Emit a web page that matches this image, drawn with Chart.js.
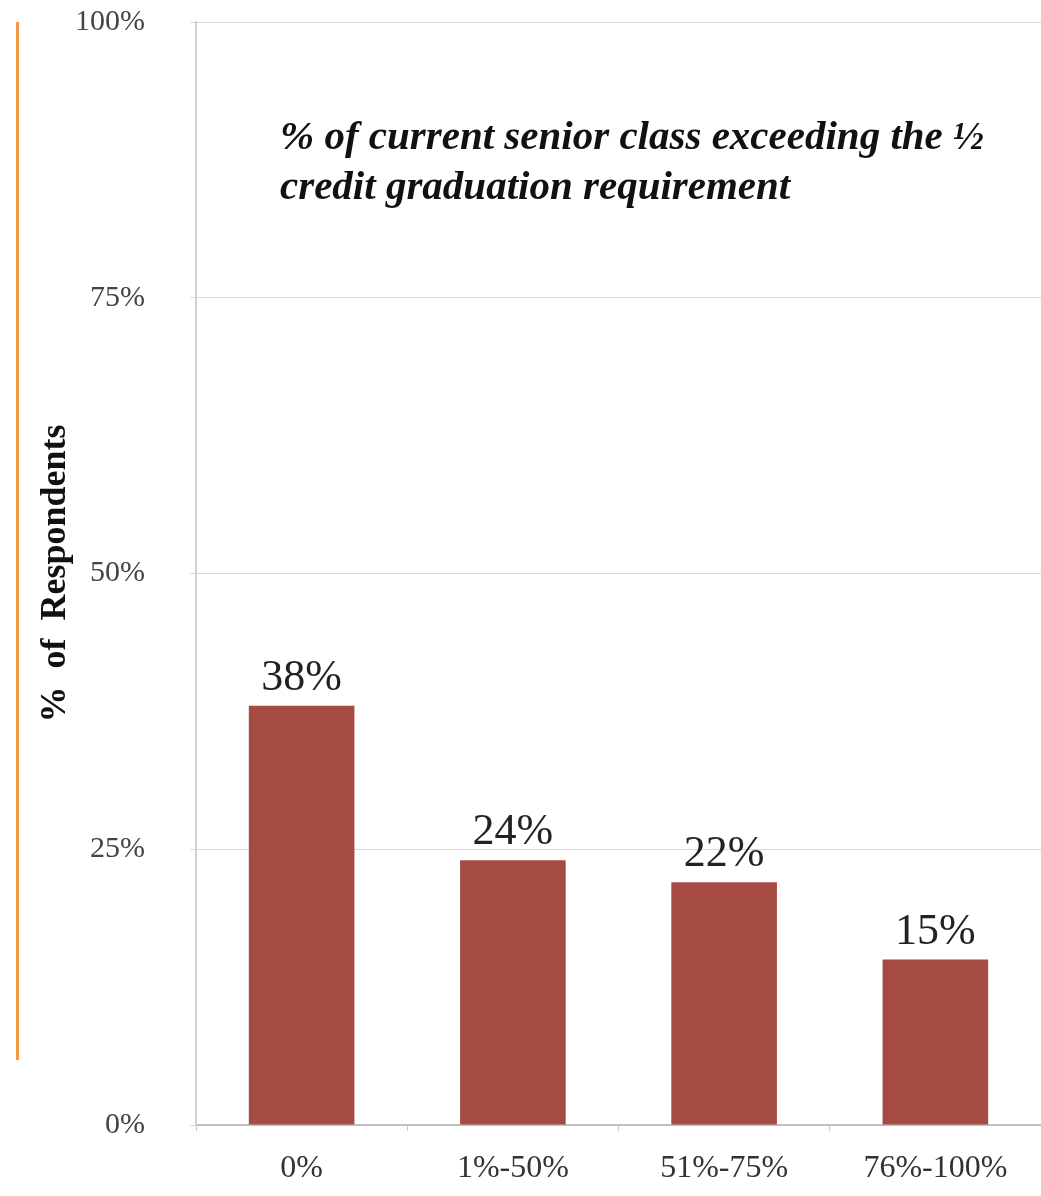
<!DOCTYPE html>
<html lang="en">

<head>
    <meta charset="UTF-8">
    <title>Senior class credit</title>
    <style>
        html, body { margin: 0; padding: 0; background: #fff; }
        #wrap { position: relative; width: 1041px; height: 1196px; }
    </style>
</head>

<body>
    <div id="wrap">
        <canvas id="bars" width="1041" height="1196"></canvas>
    </div>
    <script src="https://cdn.jsdelivr.net/npm/chart.js"></script>
    <script>
        const categories = ['0%', '1%-50%', '51%-75%', '76%-100%'];
        const respondents = [38, 24, 22, 15];
        const yTicks = [0, 25, 50, 75, 100];
        const titleLines = ['% of current senior class exceeding the \u00bd', 'credit graduation requirement'];

        const serif = '"Liberation Serif", "DejaVu Serif", serif';

        const extras = {
            id: 'extras',
            afterDraw(chart) {
                const ctx = chart.ctx;
                ctx.save();
                // orange rule on the far left
                ctx.fillStyle = '#f2994a';
                ctx.fillRect(16, 22, 3, 1038);

                // title inside plot
                ctx.fillStyle = '#111';
                ctx.font = 'italic bold 41px ' + serif;
                ctx.textAlign = 'left';
                ctx.textBaseline = 'middle';
                titleLines.forEach(function (line, i) {
                    ctx.fillText(line, 280, 138 + i * 50);
                });

                // value labels above bars
                ctx.font = '44px ' + serif;
                ctx.fillStyle = '#222';
                ctx.textAlign = 'center';
                ctx.textBaseline = 'alphabetic';
                const meta = chart.getDatasetMeta(0);
                meta.data.forEach(function (bar, i) {
                    ctx.fillText(respondents[i] + '%', bar.x, bar.y - 16);
                });
                ctx.restore();
            }
        };

        new Chart(document.getElementById('bars'), {
            type: 'bar',
            data: {
                labels: categories,
                datasets: [{
                    data: respondents,
                    backgroundColor: '#a64b43',
                    borderWidth: 0,
                    barPercentage: 0.5,
                    categoryPercentage: 1.0
                }]
            },
            options: {
                responsive: false,
                animation: false,
                layout: { padding: { top: 22, right: 0, left: 0, bottom: 0 } },
                plugins: {
                    legend: { display: false },
                    tooltip: { enabled: false }
                },
                scales: {
                    x: {
                        grid: {
                            offset: true,
                            drawOnChartArea: false,
                            tickLength: 6,
                            color: '#c8c8c8'
                        },
                        border: { color: '#c0c0c0', width: 2 },
                        ticks: {
                            font: { family: serif, size: 32 },
                            color: '#333',
                            padding: 18
                        },
                        afterFit(scale) { scale.height = 71; }
                    },
                    y: {
                        min: 0,
                        max: 100,
                        afterBuildTicks(scale) {
                            scale.ticks = yTicks.map(function (v) { return { value: v }; });
                        },
                        grid: { color: '#d8d8d8', tickLength: 6 },
                        border: { color: '#d0d0d0', width: 2 },
                        ticks: {
                            font: { family: serif, size: 30 },
                            color: '#444',
                            padding: 45,
                            callback: function (v) { return v + '%'; }
                        },
                        title: {
                            display: true,
                            text: '%  of  Respondents',
                            font: { family: serif, size: 36, weight: 'bold' },
                            color: '#111',
                            padding: { top: 34, bottom: 0 }
                        },
                        afterFit(scale) {
                            // fixed axis width, no extra room for half-labels
                            scale.width = 196;
                            scale.paddingTop = 0;
                            scale.paddingBottom = 0;
                        }
                    }
                }
            },
            plugins: [extras]
        });
    </script>
</body>

</html>
